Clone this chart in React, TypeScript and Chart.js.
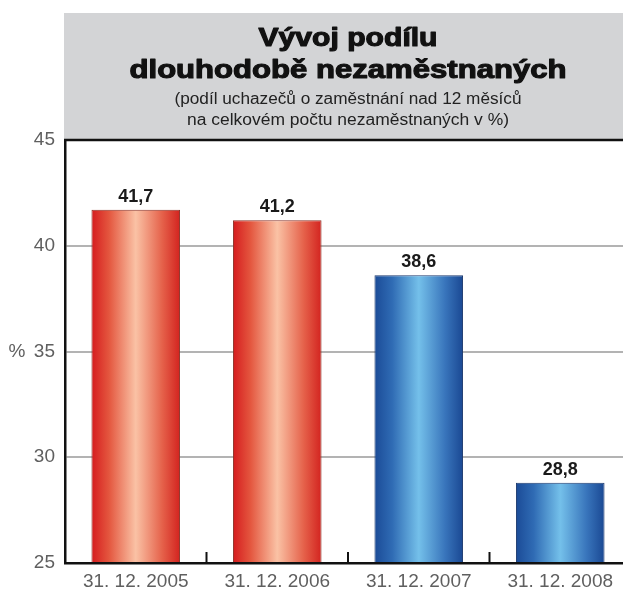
import React, { useEffect, useRef } from 'react';
import { Chart, registerables } from 'chart.js';

Chart.register(...registerables);

const categories = ['31. 12. 2005', '31. 12. 2006', '31. 12. 2007', '31. 12. 2008'];
const values = [41.7, 41.2, 38.6, 28.8];
const valueLabels = ['41,7', '41,2', '38,6', '28,8'];
const barTones = ['red', 'red', 'blue', 'blue'];
const yMin = 25;
const yMax = 45;
const yStep = 5;
const titleLines = ['Vývoj podílu', 'dlouhodobě nezaměstnaných'];
const subtitleLines = ['(podíl uchazečů o zaměstnání nad 12 měsíců', 'na celkovém počtu nezaměstnaných v %)'];
const yAxisLabel = '%';

const gradientStops: Record<string, [number, string][]> = {
  red: [[0, '#d51c1e'], [0.2, '#e4573f'], [0.5, '#fac2a5'], [0.8, '#e5614a'], [1, '#d3231f']],
  blue: [[0, '#1b4b97'], [0.2, '#2f6bb4'], [0.5, '#74c0ea'], [0.8, '#3874bb'], [1, '#1a4893']],
};
const borderTones: Record<string, string> = { red: '#8a3328', blue: '#1d3a6e' };

const FONT = '"Liberation Sans", Arial, Helvetica, sans-serif';
const CANVAS_W = 631;
const VIEW_W = 623;

function drawFitted(ctx: CanvasRenderingContext2D, text: string, cx: number, y: number, width: number, stroke = 0) {
  const w = ctx.measureText(text).width;
  const s = width / w;
  ctx.save();
  ctx.translate(cx, y);
  ctx.scale(s, 1);
  ctx.textAlign = 'center';
  ctx.textBaseline = 'alphabetic';
  if (stroke > 0) {
    ctx.lineJoin = 'round';
    ctx.lineWidth = stroke;
    ctx.strokeStyle = ctx.fillStyle as string;
    ctx.strokeText(text, 0, 0);
  }
  ctx.fillText(text, 0, 0);
  ctx.restore();
}

const decorPlugin = {
  id: 'decor',
  beforeDraw(chart: any) {
    const { ctx, chartArea } = chart;
    ctx.save();
    ctx.fillStyle = '#d3d4d6';
    ctx.fillRect(chartArea.left - 1, 13, chart.width - chartArea.left + 1, chartArea.top - 13);
    ctx.fillStyle = '#111111';
    ctx.font = `bold 25px ${FONT}`;
    drawFitted(ctx, titleLines[0], 348, 46, 179, 1.1);
    drawFitted(ctx, titleLines[1], 348, 78, 437, 1.1);
    ctx.fillStyle = '#222222';
    ctx.font = `16px ${FONT}`;
    drawFitted(ctx, subtitleLines[0], 348, 104, 347);
    drawFitted(ctx, subtitleLines[1], 348, 125, 322);
    ctx.restore();
  },
  beforeDatasetsDraw(chart: any) {
    const { ctx } = chart;
    const meta = chart.getDatasetMeta(0);
    meta.data.forEach((el: any, i: number) => {
      const { x, width } = el.getProps(['x', 'width'], true);
      const g = ctx.createLinearGradient(x - width / 2, 0, x + width / 2, 0);
      gradientStops[barTones[i]].forEach(([o, c]) => g.addColorStop(o, c));
      el.options.backgroundColor = g;
    });
  },
  afterDatasetsDraw(chart: any) {
    const { ctx } = chart;
    const meta = chart.getDatasetMeta(0);
    ctx.save();
    ctx.fillStyle = '#1a1a1a';
    ctx.font = `bold 18px ${FONT}`;
    ctx.textAlign = 'center';
    ctx.textBaseline = 'alphabetic';
    meta.data.forEach((el: any, i: number) => {
      const { x, y } = el.getProps(['x', 'y'], true);
      ctx.fillText(valueLabels[i], x, y - 8);
    });
    ctx.restore();
  },
  afterDraw(chart: any) {
    const { ctx, chartArea, scales } = chart;
    ctx.save();
    ctx.strokeStyle = '#111111';
    ctx.lineWidth = 2.5;
    ctx.beginPath();
    ctx.moveTo(chartArea.left - 1, chartArea.top);
    ctx.lineTo(chart.width, chartArea.top);
    ctx.stroke();
    ctx.lineWidth = 2;
    for (let i = 0; i < categories.length - 1; i++) {
      const x = (scales.x.getPixelForValue(i) + scales.x.getPixelForValue(i + 1)) / 2;
      ctx.beginPath();
      ctx.moveTo(x, chartArea.bottom);
      ctx.lineTo(x, chartArea.bottom - 11);
      ctx.stroke();
    }
    ctx.fillStyle = '#5f5f5f';
    ctx.font = `19px ${FONT}`;
    ctx.textAlign = 'center';
    ctx.textBaseline = 'middle';
    ctx.fillText(yAxisLabel, 17, scales.y.getPixelForValue(35));
    ctx.restore();
  },
};

export default function App() {
  const ref = useRef<HTMLCanvasElement | null>(null);
  useEffect(() => {
    if (!ref.current) return;
    const chart = new Chart(ref.current, {
      type: 'bar',
      data: {
        labels: categories,
        datasets: [
          {
            data: values,
            backgroundColor: (c: any) => (barTones[c.dataIndex] === 'red' ? '#e66' : '#36a'),
            borderColor: (c: any) => borderTones[barTones[c.dataIndex]],
            borderWidth: 1,
            barPercentage: 0.626,
            categoryPercentage: 1,
          },
        ],
      },
      options: {
        responsive: false,
        animation: false,
        layout: { padding: { top: 140, left: 0, right: 0, bottom: 0 } },
        plugins: { legend: { display: false }, tooltip: { enabled: false }, title: { display: false } },
        scales: {
          x: {
            grid: { display: false, drawTicks: false },
            border: { display: true, color: '#111111', width: 2.5, z: 1 },
            ticks: { color: '#5f5f5f', font: { size: 19, family: FONT }, padding: 7 },
            afterFit: (s: any) => { s.height = 27; },
          },
          y: {
            min: yMin,
            max: yMax,
            ticks: { stepSize: yStep, color: '#5f5f5f', font: { size: 19, family: FONT }, padding: 10 },
            grid: { color: '#b3b3b3', lineWidth: 2, drawTicks: false },
            border: { display: true, color: '#111111', width: 2.5, z: 1 },
            afterFit: (s: any) => { s.width = 65; },
          },
        },
      },
      plugins: [decorPlugin],
    });
    return () => chart.destroy();
  }, []);
  return (
    <div style={{ position: 'absolute', left: 0, top: 0, width: VIEW_W, height: 590, overflow: 'hidden', background: '#fff' }}>
      <canvas ref={ref} width={CANVAS_W} height={590} style={{ display: 'block' }} />
    </div>
  );
}
